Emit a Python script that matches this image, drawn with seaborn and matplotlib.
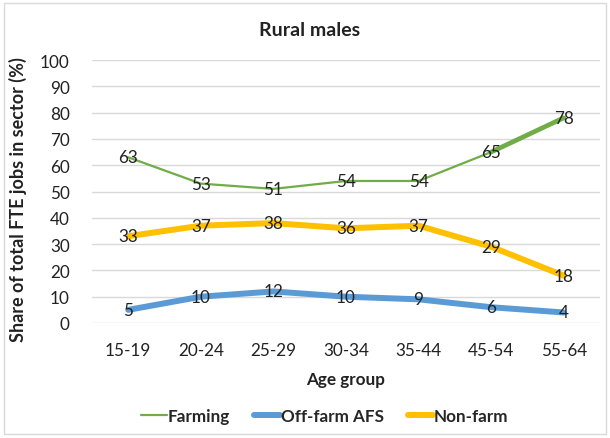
import matplotlib
matplotlib.use("Agg")
import matplotlib.pyplot as plt
from matplotlib.lines import Line2D
from matplotlib.patches import Rectangle
import seaborn as sns
import pandas as pd

age_groups = ["15-19", "20-24", "25-29", "30-34", "35-44", "45-54", "55-64"]
farming = [63, 53, 51, 54, 54, 65, 78]
off_farm_afs = [5, 10, 12, 10, 9, 6, 4]
non_farm = [33, 37, 38, 36, 37, 29, 18]

series_names = ["Farming", "Off-farm AFS", "Non-farm"]
series_values = [farming, off_farm_afs, non_farm]
colors = {"Farming": "#70AD47", "Off-farm AFS": "#5B9BD5", "Non-farm": "#FFC000"}
widths = {"Farming": 1.6, "Off-farm AFS": 4.3, "Non-farm": 4.3}

rows = []
for name, vals in zip(series_names, series_values):
    for i, (g, v) in enumerate(zip(age_groups, vals)):
        rows.append({"pos": i, "Age group": g, "Sector": name, "Share": v})
df = pd.DataFrame(rows)

sns.set_theme(style="white")
plt.rcParams["font.family"] = ["Lato", "DejaVu Sans"]

W, H = 610, 439
fig = plt.figure(figsize=(W / 100, H / 100), dpi=100)
ax = fig.add_axes([92 / W, 1 - 324 / H, 508 / W, 263 / H])

ax.set_ylim(0, 100)
ax.set_xlim(-0.5, len(age_groups) - 0.5)
ax.set_yticks(range(0, 101, 10))
for y in range(0, 101, 10):
    ax.axhline(y, color="#D9D9D9", lw=1.0, zorder=0)

sns.lineplot(data=df, x="pos", y="Share", hue="Sector", palette=colors,
             hue_order=series_names, sort=False, ax=ax, legend=False,
             estimator=None, clip_on=False)
for line, name in zip(ax.get_lines()[-3:], series_names):
    line.set_linewidth(widths[name])
    line.set_solid_capstyle("round")
    line.set_solid_joinstyle("round")

# heavier final segment of the farming line
ax.plot(df.loc[df.Sector == "Farming", "pos"].values[-2:],
        df.loc[df.Sector == "Farming", "Share"].values[-2:],
        color=colors["Farming"], lw=3.4, solid_capstyle="round", zorder=2)

fs = 12.3
for name, vals in zip(series_names, series_values):
    for i, v in enumerate(vals):
        ax.text(i, v, f"{v}", ha="center", va="center", fontsize=fs,
                color="#222222", zorder=5)

ax.set_xticks(range(len(age_groups)))
ax.set_xticklabels(age_groups, fontsize=fs, color="#222222")
ax.tick_params(axis="y", labelsize=fs, labelcolor="#222222", length=0, pad=16)
ax.tick_params(axis="x", length=0, pad=14)
for s in ax.spines.values():
    s.set_visible(False)

ax.set_xlabel("Age group", fontsize=fs, fontweight="bold", color="#222222", labelpad=9)
ax.set_ylabel("Share of total FTE jobs in sector (%)", fontsize=13,
              fontweight="bold", color="#222222")
ax.yaxis.set_label_coords((27 - 92) / 508, (324 - 200) / 263)
fig.text(0.507, 1 - 30 / H, "Rural males", ha="center", va="center",
         fontsize=14, fontweight="bold", color="#222222")

handles = [Line2D([0], [0], color=colors[n], lw=widths[n]) for n in series_names]
fig.legend(handles, series_names, loc="center", bbox_to_anchor=(325 / W, 1 - 417 / H),
           ncol=3, frameon=False, handlelength=1.5, handletextpad=0.05,
           columnspacing=1.4, prop={"weight": "bold", "size": fs})

fig.patches.append(Rectangle((4 / W, 4 / H), 602 / W, 431 / H,
                             transform=fig.transFigure, fill=False,
                             edgecolor="#D9D9D9", lw=1.0))

fig.savefig("out.png", dpi=100)
